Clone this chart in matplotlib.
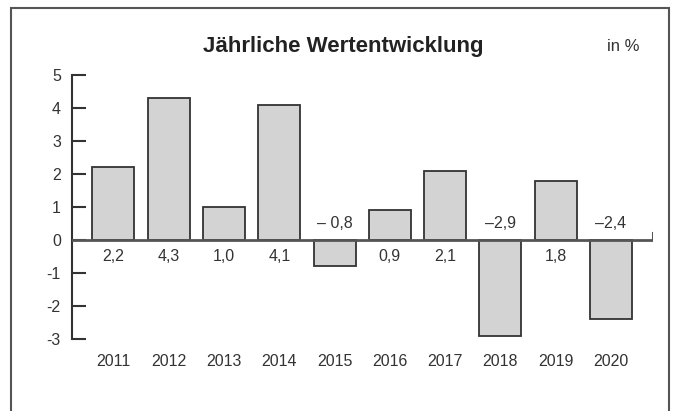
import matplotlib.pyplot as plt
from matplotlib.patches import Rectangle

years = ['2011', '2012', '2013', '2014', '2015', '2016', '2017', '2018', '2019', '2020']
values = [2.2, 4.3, 1.0, 4.1, -0.8, 0.9, 2.1, -2.9, 1.8, -2.4]
value_labels = ['2,2', '4,3', '1,0', '4,1', '\u2013 0,8', '0,9', '2,1', '\u20132,9', '1,8', '\u20132,4']
y_ticks = [-3, -2, -1, 0, 1, 2, 3, 4, 5]

plt.rcParams['font.family'] = ['Liberation Sans', 'DejaVu Sans']
txt = '#333333'

fig = plt.figure(figsize=(6.79, 4.11), dpi=100)
ax = fig.add_axes([0.106, 0.1752, 0.8557, 0.6423])

x = list(range(len(years)))
ax.bar(x, values, width=0.76, color='#d3d3d3', edgecolor='#333333', linewidth=1.3, zorder=2)
ax.axhline(0, color='#555555', lw=2, zorder=3)
right = 9.76
ax.plot([right, right], [0, 0.2], color='#555555', lw=1.5, zorder=3)

for xi, v, lab in zip(x, values, value_labels):
    yy = -0.5 if v > 0 else 0.5
    ax.text(xi, yy, lab, ha='center', va='center', fontsize=11.5, color=txt)

ax.set_xlim(-0.75, right)
ax.set_ylim(-3, 5)
ax.set_yticks(y_ticks)
ax.set_yticklabels([str(t) for t in y_ticks], fontsize=11.5, color=txt)
ax.set_xticks(x)
ax.set_xticklabels(years, fontsize=11.5, color=txt)
ax.tick_params(axis='y', direction='in', length=10, width=1.5, color='#333333', pad=8)
ax.tick_params(axis='x', length=0, pad=11)
for s in ['top', 'right', 'bottom']:
    ax.spines[s].set_visible(False)
ax.spines['left'].set_color('#333333')
ax.spines['left'].set_linewidth(1.5)

fig.text(0.505, 0.888, 'Jährliche Wertentwicklung', ha='center', va='center',
         fontsize=16, fontweight='bold', color='#222222')
fig.text(0.918, 0.888, 'in %', ha='center', va='center', fontsize=12, color=txt)

fig.patches.append(Rectangle((11 / 679, -0.1), 658 / 679, 1.1 - 8 / 411,
                             transform=fig.transFigure, fill=False,
                             edgecolor='#555555', lw=1.5))

fig.savefig('out.png', dpi=100)
